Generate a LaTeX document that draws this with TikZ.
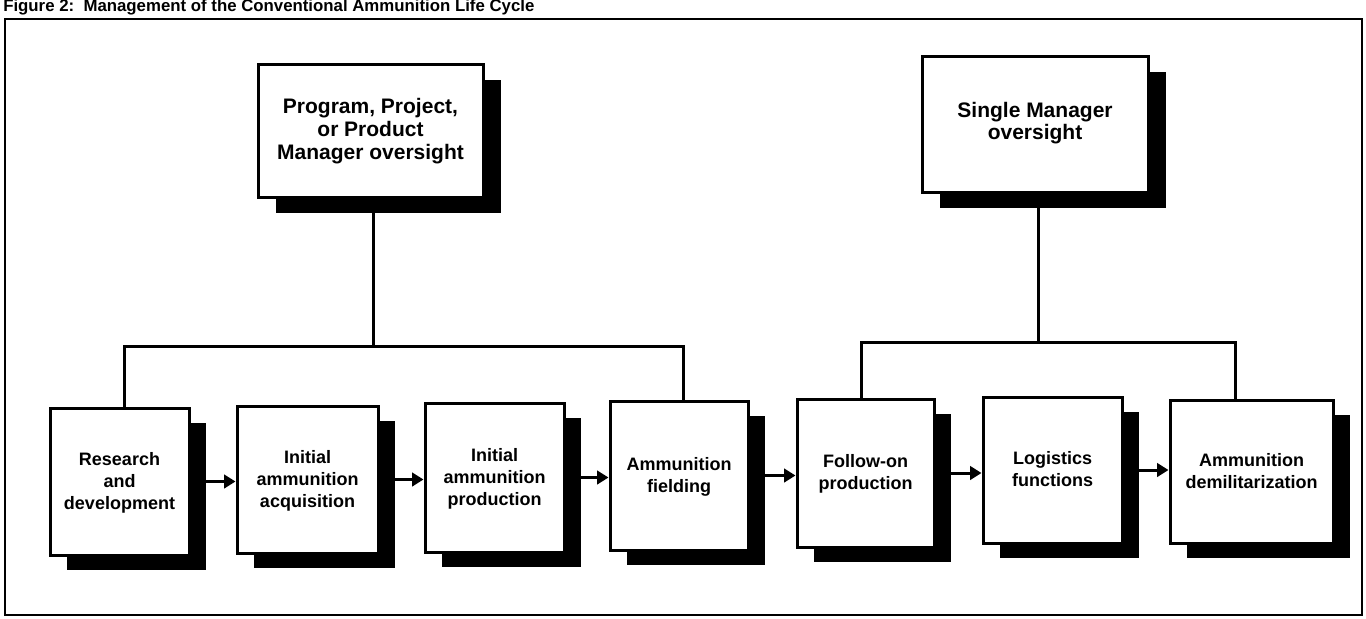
\documentclass[tikz,border=0pt]{standalone}
\usepackage{fontspec}
\setmainfont{Liberation Sans}
\usetikzlibrary{arrows.meta,shadows,fit}
% #1: how far the first baseline sits above the box centre
\newcommand{\boxlines}[2]{\raisebox{#1}[0pt][0pt]{\begin{tabular}[t]{@{}c@{}}#2\end{tabular}}}
\begin{document}
\begin{tikzpicture}[x=0.75pt,y=-0.75pt,
  basebox/.style={draw=black, line width=2.25pt, fill=white, inner sep=0pt},
  box/.style={basebox, font=\bfseries\fontsize{13.5}{16.5}\selectfont,
    drop shadow={shadow xshift=12.75pt, shadow yshift=-11.25pt, fill=black, opacity=1}},
  topbox/.style={basebox, font=\bfseries\fontsize{15.75}{17}\selectfont,
    drop shadow={shadow xshift=13.5pt, shadow yshift=-12pt, fill=black, opacity=1}},
  conn/.style={line width=2.25pt, line join=miter},
  arr/.style={conn, -{Triangle[length=8.5pt,width=10pt]}},
  frameline/.style={line width=1.5pt}]
\useasboundingbox (0,0) rectangle (1366,618);
\fill[white] (0,0) rectangle (1366,618);

\node[anchor=base west, inner sep=0pt, font=\bfseries\fontsize{12.6}{14}\selectfont] (title) at (3,11)
  {Figure 2:\ \ Management of the Conventional Ammunition Life Cycle};
\draw[frameline] (5,19) rectangle (1362,615);

% top boxes
\node[topbox, fit={(258,64) (483,197)}] (tl) {\boxlines{12.4pt}{Program, Project,\\or Product\\Manager oversight}};
\node[topbox, fit={(922,56) (1148,192)}] (tr) {\boxlines{5.25pt}{Single Manager\\oversight}};

% bottom boxes
\node[box, fit={(50,408) (189,555)}] (b1) {\boxlines{11.8pt}{Research\\and\\development}};
\node[box, fit={(237,406) (378,553)}] (b2) {\boxlines{12.2pt}{Initial\\ammunition\\acquisition}};
\node[box, fit={(425,403) (564,552)}] (b3) {\boxlines{12.2pt}{Initial\\ammunition\\production}};
\node[box, fit={(610,401) (748,550)}] (b4) {\boxlines{4pt}{Ammunition\\fielding}};
\node[box, fit={(797,399) (934,547)}] (b5) {\boxlines{3.8pt}{Follow-on\\production}};
\node[box, fit={(983,397) (1122,543)}] (b6) {\boxlines{3.8pt}{Logistics\\functions}};
\node[box, fit={(1170,400) (1333,543)}] (b7) {\boxlines{3.5pt}{Ammunition\\demilitarization}};

% tree connectors
\coordinate (jl) at (373,346);
\coordinate (jlL) at (124,346);
\coordinate (jlR) at (683,346);
\draw[conn] (tl.south -| jl) -- (jl);
\draw[conn] (b1.north -| jlL) -- (jlL) -- (jlR) -- (b4.north -| jlR);

\coordinate (jr) at (1038,342);
\coordinate (jrL) at (861,342);
\coordinate (jrR) at (1235,342);
\draw[conn] (tr.south -| jr) -- (jr);
\draw[conn] (b5.north -| jrL) -- (jrL) -- (jrR) -- (b7.north -| jrR);

% flow arrows
\draw[arr] (b1.east) -- (b1.east -| b2.west);
\draw[arr] (b2.east) -- (b2.east -| b3.west);
\draw[arr] (b3.east) -- (b3.east -| b4.west);
\draw[arr] (b4.east) -- (b4.east -| b5.west);
\draw[arr] (b5.east) -- (b5.east -| b6.west);
\draw[arr] (b6.east) -- (b6.east -| b7.west);
\end{tikzpicture}
\end{document}
